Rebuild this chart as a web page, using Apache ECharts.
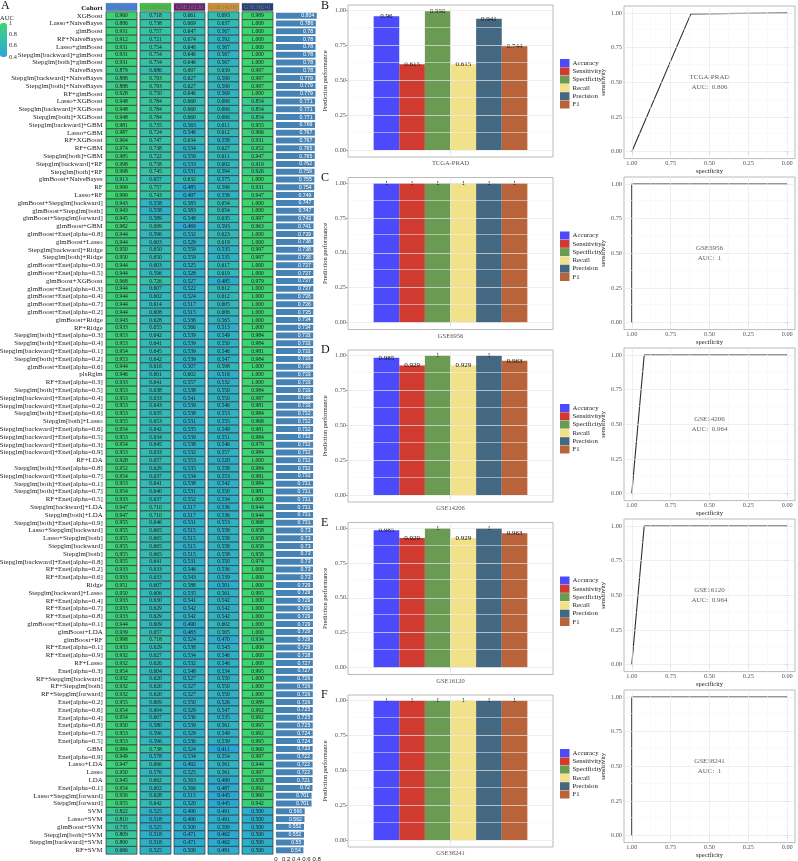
<!DOCTYPE html>
<html><head><meta charset="utf-8">
<script src="https://cdn.jsdelivr.net/npm/echarts@6/dist/echarts.min.js"></script>
<style>html,body{margin:0;padding:0;background:#fff}#c{width:798px;height:861px}</style>
</head><body><div id="c"></div>
<script>
// ---------------- DATA ----------------
const cohorts = ['TCGA','GSE6956','GSE16120','GSE14206','GSE38241'];
const models = [
'XGBoost','Lasso+NaiveBayes','glmBoost','RF+NaiveBayes','Lasso+glmBoost','Stepglm[backward]+glmBoost','Stepglm[both]+glmBoost','NaiveBayes','Stepglm[backward]+NaiveBayes','Stepglm[both]+NaiveBayes',
'RF+glmBoost','Lasso+XGBoost','Stepglm[backward]+XGBoost','Stepglm[both]+XGBoost','Stepglm[backward]+GBM','Lasso+GBM','RF+XGBoost','RF+GBM','Stepglm[both]+GBM','Stepglm[backward]+RF',
'Stepglm[both]+RF','glmBoost+NaiveBayes','RF','Lasso+RF','glmBoost+Stepglm[backward]','glmBoost+Stepglm[both]','glmBoost+Stepglm[forward]','glmBoost+GBM','glmBoost+Enet[alpha=0.8]','glmBoost+Lasso',
'Stepglm[backward]+Ridge','Stepglm[both]+Ridge','glmBoost+Enet[alpha=0.9]','glmBoost+Enet[alpha=0.5]','glmBoost+XGBoost','glmBoost+Enet[alpha=0.3]','glmBoost+Enet[alpha=0.4]','glmBoost+Enet[alpha=0.7]','glmBoost+Enet[alpha=0.2]','glmBoost+Ridge',
'RF+Ridge','Stepglm[both]+Enet[alpha=0.3]','Stepglm[both]+Enet[alpha=0.4]','Stepglm[backward]+Enet[alpha=0.1]','Stepglm[both]+Enet[alpha=0.2]','glmBoost+Enet[alpha=0.6]','plsRglm','RF+Enet[alpha=0.3]','Stepglm[both]+Enet[alpha=0.5]','Stepglm[backward]+Enet[alpha=0.4]',
'Stepglm[backward]+Enet[alpha=0.2]','Stepglm[both]+Enet[alpha=0.6]','Stepglm[both]+Lasso','Stepglm[backward]+Enet[alpha=0.6]','Stepglm[backward]+Enet[alpha=0.5]','Stepglm[backward]+Enet[alpha=0.3]','Stepglm[backward]+Enet[alpha=0.9]','RF+LDA','Stepglm[both]+Enet[alpha=0.8]','Stepglm[backward]+Enet[alpha=0.7]',
'Stepglm[both]+Enet[alpha=0.1]','Stepglm[both]+Enet[alpha=0.7]','RF+Enet[alpha=0.5]','Stepglm[backward]+LDA','Stepglm[both]+LDA','Stepglm[both]+Enet[alpha=0.9]','Lasso+Stepglm[backward]','Lasso+Stepglm[both]','Stepglm[backward]','Stepglm[both]',
'Stepglm[backward]+Enet[alpha=0.8]','RF+Enet[alpha=0.2]','RF+Enet[alpha=0.6]','Ridge','Stepglm[backward]+Lasso','RF+Enet[alpha=0.4]','RF+Enet[alpha=0.7]','RF+Enet[alpha=0.8]','glmBoost+Enet[alpha=0.1]','glmBoost+LDA',
'glmBoost+RF','RF+Enet[alpha=0.1]','RF+Enet[alpha=0.9]','RF+Lasso','Enet[alpha=0.3]','RF+Stepglm[backward]','RF+Stepglm[both]','RF+Stepglm[forward]','Enet[alpha=0.2]','Enet[alpha=0.6]',
'Enet[alpha=0.4]','Enet[alpha=0.8]','Enet[alpha=0.7]','Enet[alpha=0.5]','GBM','Enet[alpha=0.9]','Lasso+LDA','Lasso','LDA','Enet[alpha=0.1]',
'Lasso+Stepglm[forward]','Stepglm[forward]','SVM','Lasso+SVM','glmBoost+SVM','Stepglm[both]+SVM','Stepglm[backward]+SVM','RF+SVM'
];
const aucTCGA = [
0.960,0.886,0.931,0.912,0.931,0.931,0.931,0.879,0.888,0.888,
0.928,0.948,0.948,0.948,0.981,0.987,0.964,0.974,0.985,0.998,
0.998,0.913,0.999,0.999,0.943,0.943,0.945,0.982,0.944,0.944,
0.950,0.950,0.944,0.944,0.968,0.944,0.944,0.944,0.944,0.943,
0.933,0.953,0.953,0.954,0.953,0.944,0.946,0.933,0.953,0.953,
0.953,0.953,0.955,0.954,0.953,0.954,0.953,0.928,0.952,0.954,
0.953,0.954,0.933,0.947,0.947,0.955,0.955,0.955,0.955,0.955,
0.955,0.933,0.933,0.951,0.950,0.933,0.933,0.933,0.944,0.939,
0.998,0.933,0.932,0.932,0.954,0.932,0.932,0.932,0.955,0.954,
0.954,0.950,0.953,0.953,0.984,0.949,0.947,0.950,0.945,0.954,
0.956,0.955,0.822,0.810,0.735,0.809,0.800,0.686];
const aucGSE6956 = [
0.718,0.738,0.757,0.721,0.754,0.754,0.754,0.686,0.793,0.793,
0.750,0.784,0.784,0.784,0.735,0.724,0.747,0.738,0.722,0.758,
0.745,0.657,0.757,0.743,0.558,0.558,0.589,0.699,0.596,0.603,
0.650,0.650,0.603,0.596,0.726,0.607,0.602,0.614,0.608,0.628,
0.655,0.642,0.641,0.645,0.642,0.616,0.601,0.641,0.638,0.633,
0.643,0.635,0.653,0.642,0.634,0.645,0.633,0.657,0.629,0.637,
0.641,0.640,0.637,0.710,0.710,0.646,0.665,0.665,0.665,0.665,
0.641,0.633,0.633,0.607,0.606,0.630,0.629,0.629,0.609,0.657,
0.718,0.629,0.627,0.626,0.604,0.620,0.620,0.620,0.609,0.604,
0.607,0.580,0.596,0.596,0.738,0.578,0.666,0.576,0.662,0.602,
0.628,0.642,0.525,0.518,0.525,0.518,0.518,0.525];
const aucGSE16120 = [
0.661,0.669,0.647,0.674,0.646,0.646,0.646,0.697,0.627,0.627,
0.646,0.660,0.660,0.660,0.563,0.546,0.634,0.534,0.559,0.533,
0.531,0.632,0.485,0.497,0.583,0.583,0.548,0.469,0.532,0.529,
0.559,0.559,0.525,0.528,0.527,0.522,0.524,0.517,0.515,0.536,
0.566,0.539,0.539,0.539,0.539,0.507,0.602,0.557,0.538,0.541,
0.539,0.538,0.531,0.535,0.539,0.538,0.532,0.553,0.535,0.534,
0.538,0.531,0.552,0.517,0.517,0.531,0.515,0.515,0.515,0.515,
0.531,0.546,0.543,0.588,0.535,0.541,0.542,0.542,0.490,0.483,
0.524,0.538,0.534,0.532,0.548,0.527,0.527,0.527,0.550,0.529,
0.536,0.539,0.529,0.536,0.524,0.534,0.492,0.525,0.563,0.566,
0.515,0.520,0.490,0.490,0.500,0.471,0.471,0.500];
const aucGSE14206 = [
0.693,0.637,0.567,0.592,0.567,0.567,0.567,0.639,0.590,0.590,
0.569,0.606,0.606,0.606,0.611,0.612,0.558,0.627,0.611,0.602,
0.594,0.575,0.596,0.558,0.654,0.654,0.635,0.593,0.623,0.619,
0.535,0.535,0.617,0.619,0.485,0.612,0.612,0.605,0.606,0.565,
0.513,0.549,0.550,0.546,0.547,0.598,0.516,0.532,0.550,0.550,
0.546,0.553,0.555,0.549,0.551,0.546,0.557,0.520,0.558,0.553,
0.542,0.550,0.534,0.536,0.536,0.553,0.558,0.558,0.558,0.558,
0.550,0.536,0.539,0.501,0.561,0.542,0.542,0.542,0.602,0.565,
0.470,0.543,0.546,0.546,0.534,0.550,0.550,0.550,0.526,0.547,
0.535,0.561,0.549,0.539,0.411,0.554,0.561,0.561,0.480,0.487,
0.445,0.445,0.491,0.491,0.500,0.462,0.462,0.491];
const aucGSE38241 = [
0.989,1.000,1.000,1.000,1.000,1.000,1.000,0.997,0.997,0.997,
1.000,0.854,0.854,0.854,0.955,0.966,0.931,0.952,0.947,0.919,
0.926,1.000,0.931,0.947,1.000,1.000,0.997,0.963,1.000,1.000,
0.997,0.997,1.000,1.000,0.979,1.000,1.000,1.000,1.000,1.000,
1.000,0.984,0.984,0.981,0.984,1.000,1.000,1.000,0.984,0.987,
0.981,0.984,0.968,0.981,0.984,0.979,0.984,1.000,0.984,0.981,
0.984,0.981,1.000,0.944,0.944,0.968,0.958,0.958,0.958,0.958,
0.974,1.000,1.000,1.000,0.995,1.000,1.000,1.000,1.000,1.000,
0.934,1.000,1.000,1.000,0.995,1.000,1.000,1.000,0.989,0.992,
0.992,0.995,0.992,0.995,0.960,0.997,0.944,0.997,0.958,0.992,
0.960,0.942,0.500,0.500,0.500,0.500,0.500,0.500];
const meanAUC = [
0.804,0.786,0.78,0.78,0.78,0.78,0.78,0.78,0.779,0.779,
0.779,0.771,0.771,0.771,0.769,0.767,0.767,0.765,0.765,0.762,
0.759,0.755,0.754,0.749,0.747,0.747,0.743,0.741,0.739,0.738,
0.738,0.738,0.737,0.737,0.737,0.737,0.736,0.736,0.735,0.734,
0.734,0.733,0.733,0.733,0.733,0.733,0.733,0.733,0.733,0.733,
0.733,0.732,0.732,0.732,0.732,0.732,0.732,0.732,0.732,0.732,
0.731,0.731,0.731,0.731,0.731,0.731,0.73,0.73,0.73,0.73,
0.73,0.73,0.73,0.729,0.729,0.729,0.729,0.729,0.729,0.729,
0.729,0.729,0.728,0.727,0.727,0.726,0.726,0.726,0.726,0.725,
0.725,0.725,0.724,0.724,0.723,0.722,0.722,0.722,0.721,0.72,
0.701,0.701,0.566,0.562,0.552,0.552,0.55,0.54];
const meanTicks = [0, 0.2, 0.4, 0.6, 0.8];

const panelCohorts = ['TCGA-PRAD','GSE6956','GSE14206','GSE16120','GSE38241'];
const panelLetters = ['B','C','D','E','F'];
const metrics = ['Accuracy','Sensitivity','Specificity','Recall','Precision','F1'];
const accuracy    = [0.96, 1, 0.985, 0.985, 1];
const sensitivity = [0.615, 1, 0.929, 0.929, 1];
const specificity = [0.996, 1, 1, 1, 1];
const recall      = [0.615, 1, 0.929, 0.929, 1];
const precision   = [0.941, 1, 1, 1, 1];
const f1          = [0.744, 1, 0.963, 0.963, 1];
const rocAUC = [0.806, 1, 0.964, 0.964, 1];
const rocSpec = [[1, 0.62, 0], [1, 1, 0], [1, 0.92, 0], [1, 0.92, 0], [1, 1, 0]];
const rocSens = [[0, 0.993, 1], [0, 1, 1], [0, 1, 1], [0, 1, 1], [0, 1, 1]];
const perfTicks = [0, 0.25, 0.5, 0.75, 1];
const perfMinor = [0.125, 0.375, 0.625, 0.875];

// ---------------- STYLE ----------------
const SERIF = 'Liberation Serif';
const metricColors = ['#4B4BFB','#CF3B31','#6B9A53','#F0E18A','#456882','#B9633A'];
const headerColors = ['#3F82D6','#3DC43F','#6C1F6C','#D4922B','#21407A'];
const aucColors = ['#29A3D9','#31B6BB','#38C69A','#3DD36E'];
const ROW = 7.8, NROW = models.length + 1, HM_TOP = 4;
const P_BAR = 172.5, P_ROC = 171;

const aucCols = [aucTCGA, aucGSE6956, aucGSE16120, aucGSE14206, aucGSE38241];
const metricVals = [accuracy, sensitivity, specificity, recall, precision, f1];
const yCats = ['Cohort'].concat(models);

const cells = [];
for (let r = 0; r < models.length; r++)
  for (let c = 0; c < cohorts.length; c++) cells.push([c, r + 1, aucCols[c][r]]);

const grid = [], xAxis = [], yAxis = [], series = [], legend = [], title = [];
const noAx = {show:false};

// legend grid for AUC colour bar (0)
grid.push({left:0, top:23, width:7, height:34, show:false, outerBoundsMode:'none'});
xAxis.push({gridIndex:0, type:'value', min:0, max:1, show:false});
yAxis.push({gridIndex:0, type:'value', min:0.4, max:1, interval:0.2, position:'right',
  axisLine:noAx, axisTick:noAx, splitLine:noAx,
  axisLabel:{fontSize:6.3, color:'#333', margin:2, fontFamily:SERIF}});

// heatmap grid (1)
grid.push({left:104.5, top:HM_TOP, width:170, height:ROW*NROW, outerBoundsMode:'none'});
xAxis.push({gridIndex:1, type:'category', data:cohorts, show:false});
yAxis.push({gridIndex:1, type:'category', data:yCats, inverse:true,
  axisLine:noAx, axisTick:noAx, splitLine:noAx,
  axisLabel:{interval:0, fontSize:6.9, color:'#222', margin:1.8, fontFamily:SERIF,
    formatter: v => v === 'Cohort' ? '{b|Cohort}' : v,
    rich:{b:{fontWeight:'bold', fontSize:7, color:'#111', fontFamily:SERIF}}}});

// mean AUC bar grid (2)
grid.push({left:276, top:HM_TOP, width:43.1, height:ROW*NROW, outerBoundsMode:'none'});
xAxis.push({gridIndex:2, type:'value', min:0, max:0.85, axisLine:noAx, axisTick:noAx, splitLine:noAx,
  axisLabel:{customValues:meanTicks, fontSize:6, margin:2, color:'#222', fontFamily:'Liberation Sans',
    formatter: v => String(+(+v).toFixed(2))}});
yAxis.push({gridIndex:2, type:'category', data:yCats, inverse:true, show:false});

// performance bar grids (3..7)
for (let i = 0; i < 5; i++) {
  grid.push({left:348, top:5 + P_BAR*i, width:205, height:152, show:true, borderColor:'#a8a8a8', borderWidth:0.8, outerBoundsMode:'none'});
  xAxis.push({gridIndex:3+i, type:'category', data:[panelCohorts[i]], axisLine:noAx,
    axisTick:{show:true, alignWithLabel:true, length:2.5, lineStyle:{color:'#888', width:0.6}},
    axisLabel:{fontSize:6.5, color:'#555', margin:3, fontFamily:SERIF}, splitLine:noAx});
  yAxis.push({gridIndex:3+i, type:'value', min:-0.05, max:1.04,
    name:'Prediction performance', nameLocation:'middle', nameGap:19,
    nameTextStyle:{fontSize:6.5, color:'#222', fontFamily:SERIF},
    axisLine:noAx, splitLine:noAx,
    axisTick:{show:true, length:2.5, customValues:perfTicks, lineStyle:{color:'#888', width:0.6}},
    axisLabel:{customValues:perfTicks, formatter: v => (+v).toFixed(2), fontSize:6.3, color:'#555', margin:2, fontFamily:SERIF}});
}
// ROC grids (8..12)
for (let i = 0; i < 5; i++) {
  grid.push({left:624, top:6 + P_ROC*i, width:171, height:152.6, show:true, borderColor:'#a8a8a8', borderWidth:0.8, outerBoundsMode:'none'});
  xAxis.push({gridIndex:8+i, type:'value', min:-0.05, max:1.05, inverse:true,
    name:'specificity', nameLocation:'middle', nameGap:9.5,
    nameTextStyle:{fontSize:6.5, color:'#222', fontFamily:SERIF},
    axisLine:noAx, splitLine:noAx,
    axisTick:{show:true, length:2.5, customValues:perfTicks, lineStyle:{color:'#888', width:0.6}},
    axisLabel:{customValues:perfTicks, formatter: v => (+v).toFixed(2), fontSize:6.3, color:'#555', margin:2, fontFamily:SERIF}});
  yAxis.push({gridIndex:8+i, type:'value', min:-0.05, max:1.05,
    name:'sensitivity', nameLocation:'middle', nameGap:16,
    nameTextStyle:{fontSize:6.5, color:'#222', fontFamily:SERIF},
    axisLine:noAx, splitLine:noAx,
    axisTick:{show:true, length:2.5, customValues:perfTicks, lineStyle:{color:'#888', width:0.6}},
    axisLabel:{customValues:perfTicks, formatter: v => (+v).toFixed(2), fontSize:6.3, color:'#555', margin:2, fontFamily:SERIF}});
}

// series 0: heatmap cells
series.push({type:'custom', xAxisIndex:1, yAxisIndex:1, data:cells, encode:{x:0, y:1},
  renderItem: function (params, api) {
    const p = api.coord([api.value(0), api.value(1)]);
    const s = api.size([1, 1]);
    const w = s[0] - 3, h = s[1];
    return {type:'group', children:[
      {type:'rect', shape:{x:p[0]-w/2, y:p[1]-h/2, width:w, height:h},
        style:{fill:api.visual('color'), stroke:'#353535', lineWidth:0.7}},
      {type:'text', x:p[0], y:p[1]+0.3, style:{text:api.value(2).toFixed(3), fontSize:5.6, fontFamily:SERIF,
        fill:'#151515', align:'center', verticalAlign:'middle'}}
    ]};
  }});
// series 1: header boxes
series.push({type:'custom', xAxisIndex:1, yAxisIndex:1, data:cohorts.map((c, i) => [i, 0]), encode:{x:0, y:1},
  renderItem: function (params, api) {
    const idx = api.value(0);
    const p = api.coord([idx, 0]);
    const s = api.size([1, 1]);
    const w = s[0] - 3;
    return {type:'group', children:[
      {type:'rect', shape:{x:p[0]-w/2, y:p[1]-4.6, width:w, height:7.4},
        style:{fill:headerColors[idx], stroke:'#555', lineWidth:0.4}},
      {type:'text', x:p[0], y:p[1]-0.9, style:{text:cohorts[idx], fontSize:6.2, fontFamily:SERIF,
        fill:'#7a7a7a', align:'center', verticalAlign:'middle'}}
    ]};
  }});
// series 2: mean AUC bars
series.push({type:'bar', xAxisIndex:2, yAxisIndex:2, data:['-'].concat(meanAUC), barWidth:6,
  itemStyle:{color:'#4682B4'},
  label:{show:true, position:'insideRight', distance:2.5, fontSize:5.2, color:'#fff', fontFamily:'Liberation Sans',
    formatter: p => String(p.value)}});

const gridLineData = (withX, catName) => {
  const d = [];
  perfMinor.forEach(v => d.push({yAxis:v, lineStyle:{color:'#f4f4f4', width:0.5, type:'solid'}}));
  perfTicks.forEach(v => d.push({yAxis:v, lineStyle:{color:'#e8e8e8', width:0.7, type:'solid'}}));
  if (withX) {
    perfMinor.forEach(v => d.push({xAxis:v, lineStyle:{color:'#f4f4f4', width:0.5, type:'solid'}}));
    perfTicks.forEach(v => d.push({xAxis:v, lineStyle:{color:'#e8e8e8', width:0.7, type:'solid'}}));
  } else {
    d.push({xAxis:catName, lineStyle:{color:'#e8e8e8', width:0.7, type:'solid'}});
  }
  return d;
};

for (let i = 0; i < 5; i++) {
  series.push({type:'line', xAxisIndex:3+i, yAxisIndex:3+i, data:[], z:1, silent:true,
    markLine:{silent:true, symbol:'none', animation:false, label:{show:false}, data:gridLineData(false, panelCohorts[i])}});
  metrics.forEach((m, k) => {
    series.push({type:'bar', name:m, xAxisIndex:3+i, yAxisIndex:3+i, data:[metricVals[k][i]], z:2,
      barGap:'0%', barCategoryGap:'25%', itemStyle:{color:metricColors[k]},
      label:{show:true, position:['50%', 0], align:'center', verticalAlign:'middle',
        fontSize:7, color:'#111', fontFamily:SERIF, formatter: p => String(p.value)}});
  });
  series.push({type:'line', xAxisIndex:8+i, yAxisIndex:8+i, data:[], z:1, silent:true,
    markLine:{silent:true, symbol:'none', animation:false, label:{show:false}, data:gridLineData(true)}});
  series.push({type:'line', xAxisIndex:8+i, yAxisIndex:8+i, z:3, symbol:'none',
    data: rocSpec[i].map((s, j) => [s, rocSens[i][j]]),
    lineStyle:{color:'#2e2e2e', width:1.1}});
  series.push({type:'scatter', xAxisIndex:8+i, yAxisIndex:8+i, z:3, symbolSize:0, silent:true,
    data:[[0.5, 0.5]],
    label:{show:true, position:'inside', formatter: panelCohorts[i] + '\nAUC:  ' + rocAUC[i],
      fontSize:7, lineHeight:10, color:'#333', fontFamily:SERIF}});
  legend.push({left:560, top:59 + P_BAR*i, orient:'vertical', data:metrics, itemWidth:9.5, itemHeight:8,
    itemGap:0.3, icon:'rect', padding:0, selectedMode:false,
    textStyle:{fontSize:6.8, lineHeight:8, color:'#222', fontFamily:SERIF, padding:[0,0,0,-2]}});
  title.push({text:panelLetters[i], left:321, top:Math.max(0, P_BAR*i - 1), padding:0,
    textStyle:{fontSize:12, fontWeight:'normal', color:'#111', fontFamily:SERIF}});
}
title.push({text:'A', left:1, top:0, padding:0, textStyle:{fontSize:12, fontWeight:'normal', color:'#111', fontFamily:SERIF}});
title.push({text:'AUC', left:0, top:15, padding:0, textStyle:{fontSize:6.5, fontWeight:'normal', color:'#222', fontFamily:SERIF}});

const option = {
  animation:false,
  backgroundColor:'#fff',
  textStyle:{fontFamily:SERIF},
  title, grid, xAxis, yAxis, legend, series,
  visualMap:[{type:'continuous', min:0.4, max:1, dimension:2, seriesIndex:0, left:0, top:23,
    itemWidth:7, itemHeight:34, calculable:false, padding:0, hoverLink:false,
    inRange:{color:aucColors}}]
};
const chart = echarts.init(document.getElementById('c'));
chart.setOption(option);
</script></body></html>
